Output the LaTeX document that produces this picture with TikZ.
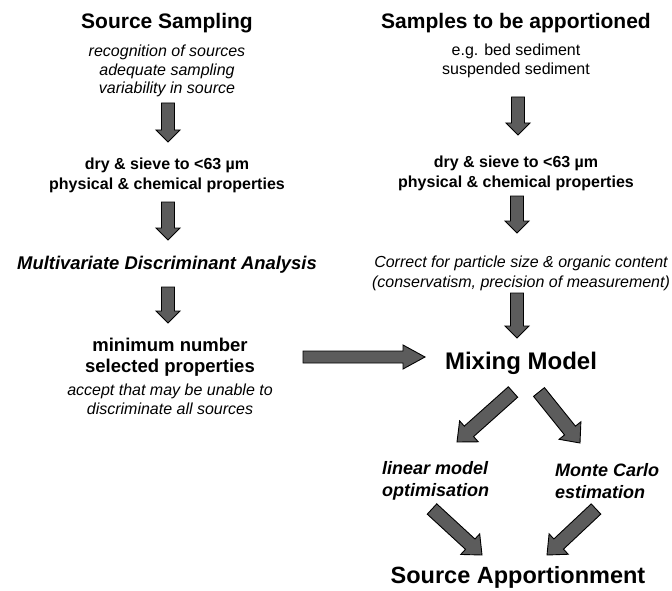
\documentclass[tikz,border=0pt]{standalone}
\usepackage{fontspec}
\setmainfont{Liberation Sans}
\usetikzlibrary{calc}
\newcommand\blockarrow[5]{%
  \coordinate (tmpneck) at ($(#2)!#5!(#1)$);
  \filldraw[blockarr]
    ($(#1)!#3!90:(#2)$) -- ($(tmpneck)!#3!-90:(#1)$) -- ($(tmpneck)!#4!-90:(#1)$)
    -- (#2) -- ($(tmpneck)!#4!90:(#1)$) -- ($(tmpneck)!#3!90:(#1)$)
    -- ($(#1)!#3!-90:(#2)$) -- cycle;
}
\tikzset{
  blockarr/.style={fill=black!64, draw=black, line width=0.9pt, line join=miter},
  title/.style={font=\fontsize{21}{24}\selectfont\bfseries, inner sep=0pt},
  note/.style={font=\fontsize{16}{18.7}\selectfont\itshape, align=center, inner sep=0pt},
  plain/.style={font=\fontsize{16}{19}\selectfont, align=center, inner sep=0pt},
  boldtxt/.style={font=\fontsize{16}{20}\selectfont\bfseries, align=center, inner sep=0pt},
  bigbold/.style={font=\fontsize{18.5}{21}\selectfont\bfseries, align=center, inner sep=0pt},
  bi/.style={font=\fontsize{18}{22}\selectfont\bfseries\itshape, align=left, inner sep=0pt},
}
\begin{document}
\begin{tikzpicture}[x=1pt, y=-1pt]
\useasboundingbox[fill=white] (0,0) rectangle (672,591);

% left column
\node[title] (ss) at (167,23) {Source Sampling};
\node[note] (ssn) at (167,71) {recognition of sources\\adequate sampling\\variability in source};
\node[boldtxt] (drl) at (167,175) {dry \& sieve to <63 µm\\physical \& chemical properties};
\node[font=\fontsize{18.4}{22}\selectfont\bfseries\itshape, inner sep=0pt] (mda) at (167,265) {Multivariate Discriminant Analysis};
\node[bigbold] (mn) at (170,357) {minimum number\\selected properties};
\node[note, font=\fontsize{16}{19}\selectfont\itshape] (mnn) at (170,399) {accept that may be unable to\\discriminate all sources};

% right column
\node[title] (sa) at (516,23) {Samples to be apportioned};
\node[plain] (san) at (516,61) {e.g. bed sediment\\suspended sediment};
\node[boldtxt] (drr) at (516,173) {dry \& sieve to <63 µm\\physical \& chemical properties};
\node[note, font=\fontsize{16}{20}\selectfont\itshape] (cor) at (521,273) {Correct for particle size \& organic content\\(conservatism, precision of measurement)};
\node[font=\fontsize{24}{28}\selectfont\bfseries, inner sep=0pt] (mm) at (521,363) {Mixing Model};
\node[bi, anchor=west] (lm) at (382,481) {linear model\\optimisation};
\node[bi, anchor=west] (mc) at (555,481) {Monte Carlo\\estimation};
\node[font=\fontsize{23.5}{28}\selectfont\bfseries, inner sep=0pt] (sap) at (518,577) {Source Apportionment};

% arrow end points
\coordinate (l1a) at (168,103); \coordinate (l1b) at (168,142);
\coordinate (l2a) at (168,202); \coordinate (l2b) at (168,240);
\coordinate (l3a) at (168,287); \coordinate (l3b) at (168,323);
\coordinate (r1a) at (518,97);  \coordinate (r1b) at (518,135);
\coordinate (r2a) at (517,196); \coordinate (r2b) at (517,233);
\coordinate (r3a) at (517,293); \coordinate (r3b) at (517,338);
\coordinate (ha) at (303,357);  \coordinate (hb) at (425,357);
\coordinate (d1a) at (513,392); \coordinate (d1b) at (457,442);
\coordinate (d2a) at (539,392); \coordinate (d2b) at (580,443);
\coordinate (d3a) at (432,509); \coordinate (d3b) at (482,555);
\coordinate (d4a) at (596,509); \coordinate (d4b) at (547,555);

\blockarrow{l1a}{l1b}{6.5pt}{12pt}{12pt}
\blockarrow{l2a}{l2b}{6.5pt}{12pt}{12pt}
\blockarrow{l3a}{l3b}{6.5pt}{12pt}{12pt}
\blockarrow{r1a}{r1b}{6.5pt}{12pt}{12pt}
\blockarrow{r2a}{r2b}{6.5pt}{12pt}{12pt}
\blockarrow{r3a}{r3b}{6.5pt}{12pt}{12pt}
\blockarrow{ha}{hb}{6pt}{12pt}{22pt}
\blockarrow{d1a}{d1b}{7pt}{14pt}{16pt}
\blockarrow{d2a}{d2b}{7pt}{14pt}{16pt}
\blockarrow{d3a}{d3b}{7pt}{14pt}{16pt}
\blockarrow{d4a}{d4b}{7pt}{14pt}{16pt}
\end{tikzpicture}
\end{document}
